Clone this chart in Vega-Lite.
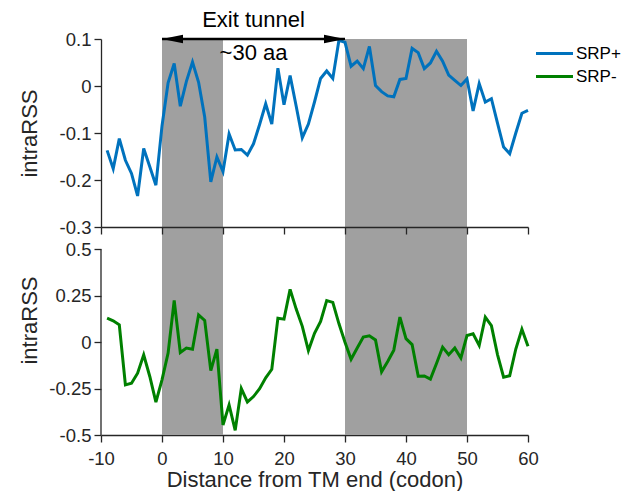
{
  "$schema": "https://vega.github.io/schema/vega-lite/v6.json",
  "padding": {"left": 18, "top": 9, "right": 5, "bottom": 0},
  "bounds": "flush",
  "spacing": 0,
  "config": {
    "font": "Liberation Sans",
    "view": {"stroke": null},
    "axis": {
      "domainColor": "#262626",
      "tickColor": "#262626",
      "labelColor": "#262626",
      "titleColor": "#262626",
      "domainWidth": 1.3,
      "tickWidth": 1.3,
      "tickSize": 7,
      "labelFontSize": 18.5,
      "labelPadding": 3,
      "labelFlush": false,
      "titleFontSize": 22,
      "titleFontWeight": "normal",
      "grid": false
    }
  },
  "datasets": {
    "regions": [
      {"start": 0, "end": 10},
      {"start": 30, "end": 50}
    ],
    "profiles": [
      {"codon": -9, "construct": "SRP+", "intraRSS": -0.137},
      {"codon": -8, "construct": "SRP+", "intraRSS": -0.176},
      {"codon": -7, "construct": "SRP+", "intraRSS": -0.112},
      {"codon": -6, "construct": "SRP+", "intraRSS": -0.158},
      {"codon": -5, "construct": "SRP+", "intraRSS": -0.186},
      {"codon": -4, "construct": "SRP+", "intraRSS": -0.234},
      {"codon": -3, "construct": "SRP+", "intraRSS": -0.133},
      {"codon": -2, "construct": "SRP+", "intraRSS": -0.172},
      {"codon": -1, "construct": "SRP+", "intraRSS": -0.211},
      {"codon": 0, "construct": "SRP+", "intraRSS": -0.085},
      {"codon": 1, "construct": "SRP+", "intraRSS": 0.007},
      {"codon": 2, "construct": "SRP+", "intraRSS": 0.048},
      {"codon": 3, "construct": "SRP+", "intraRSS": -0.043},
      {"codon": 4, "construct": "SRP+", "intraRSS": 0.010},
      {"codon": 5, "construct": "SRP+", "intraRSS": 0.051},
      {"codon": 6, "construct": "SRP+", "intraRSS": 0.008},
      {"codon": 7, "construct": "SRP+", "intraRSS": -0.066},
      {"codon": 8, "construct": "SRP+", "intraRSS": -0.204},
      {"codon": 9, "construct": "SRP+", "intraRSS": -0.151},
      {"codon": 10, "construct": "SRP+", "intraRSS": -0.182},
      {"codon": 11, "construct": "SRP+", "intraRSS": -0.102},
      {"codon": 12, "construct": "SRP+", "intraRSS": -0.136},
      {"codon": 13, "construct": "SRP+", "intraRSS": -0.135},
      {"codon": 14, "construct": "SRP+", "intraRSS": -0.147},
      {"codon": 15, "construct": "SRP+", "intraRSS": -0.123},
      {"codon": 16, "construct": "SRP+", "intraRSS": -0.082},
      {"codon": 17, "construct": "SRP+", "intraRSS": -0.038},
      {"codon": 18, "construct": "SRP+", "intraRSS": -0.081},
      {"codon": 19, "construct": "SRP+", "intraRSS": 0.038},
      {"codon": 20, "construct": "SRP+", "intraRSS": -0.040},
      {"codon": 21, "construct": "SRP+", "intraRSS": 0.022},
      {"codon": 22, "construct": "SRP+", "intraRSS": -0.043},
      {"codon": 23, "construct": "SRP+", "intraRSS": -0.110},
      {"codon": 24, "construct": "SRP+", "intraRSS": -0.081},
      {"codon": 25, "construct": "SRP+", "intraRSS": -0.034},
      {"codon": 26, "construct": "SRP+", "intraRSS": 0.016},
      {"codon": 27, "construct": "SRP+", "intraRSS": 0.032},
      {"codon": 28, "construct": "SRP+", "intraRSS": 0.016},
      {"codon": 29, "construct": "SRP+", "intraRSS": 0.097},
      {"codon": 30, "construct": "SRP+", "intraRSS": 0.093},
      {"codon": 31, "construct": "SRP+", "intraRSS": 0.042},
      {"codon": 32, "construct": "SRP+", "intraRSS": 0.053},
      {"codon": 33, "construct": "SRP+", "intraRSS": 0.037},
      {"codon": 34, "construct": "SRP+", "intraRSS": 0.084},
      {"codon": 35, "construct": "SRP+", "intraRSS": 0.001},
      {"codon": 36, "construct": "SRP+", "intraRSS": -0.012},
      {"codon": 37, "construct": "SRP+", "intraRSS": -0.021},
      {"codon": 38, "construct": "SRP+", "intraRSS": -0.023},
      {"codon": 39, "construct": "SRP+", "intraRSS": 0.014},
      {"codon": 40, "construct": "SRP+", "intraRSS": 0.016},
      {"codon": 41, "construct": "SRP+", "intraRSS": 0.080},
      {"codon": 42, "construct": "SRP+", "intraRSS": 0.071},
      {"codon": 43, "construct": "SRP+", "intraRSS": 0.037},
      {"codon": 44, "construct": "SRP+", "intraRSS": 0.049},
      {"codon": 45, "construct": "SRP+", "intraRSS": 0.074},
      {"codon": 46, "construct": "SRP+", "intraRSS": 0.053},
      {"codon": 47, "construct": "SRP+", "intraRSS": 0.023},
      {"codon": 48, "construct": "SRP+", "intraRSS": 0.012},
      {"codon": 49, "construct": "SRP+", "intraRSS": 0.001},
      {"codon": 50, "construct": "SRP+", "intraRSS": 0.015},
      {"codon": 51, "construct": "SRP+", "intraRSS": -0.053},
      {"codon": 52, "construct": "SRP+", "intraRSS": 0.005},
      {"codon": 53, "construct": "SRP+", "intraRSS": -0.034},
      {"codon": 54, "construct": "SRP+", "intraRSS": -0.027},
      {"codon": 55, "construct": "SRP+", "intraRSS": -0.079},
      {"codon": 56, "construct": "SRP+", "intraRSS": -0.130},
      {"codon": 57, "construct": "SRP+", "intraRSS": -0.144},
      {"codon": 58, "construct": "SRP+", "intraRSS": -0.100},
      {"codon": 59, "construct": "SRP+", "intraRSS": -0.058},
      {"codon": 60, "construct": "SRP+", "intraRSS": -0.052},
      {"codon": -9, "construct": "SRP-", "intraRSS": 0.129},
      {"codon": -8, "construct": "SRP-", "intraRSS": 0.115},
      {"codon": -7, "construct": "SRP-", "intraRSS": 0.093},
      {"codon": -6, "construct": "SRP-", "intraRSS": -0.230},
      {"codon": -5, "construct": "SRP-", "intraRSS": -0.221},
      {"codon": -4, "construct": "SRP-", "intraRSS": -0.167},
      {"codon": -3, "construct": "SRP-", "intraRSS": -0.068},
      {"codon": -2, "construct": "SRP-", "intraRSS": -0.185},
      {"codon": -1, "construct": "SRP-", "intraRSS": -0.323},
      {"codon": 0, "construct": "SRP-", "intraRSS": -0.203},
      {"codon": 1, "construct": "SRP-", "intraRSS": -0.059},
      {"codon": 2, "construct": "SRP-", "intraRSS": 0.224},
      {"codon": 3, "construct": "SRP-", "intraRSS": -0.056},
      {"codon": 4, "construct": "SRP-", "intraRSS": -0.032},
      {"codon": 5, "construct": "SRP-", "intraRSS": -0.038},
      {"codon": 6, "construct": "SRP-", "intraRSS": 0.147},
      {"codon": 7, "construct": "SRP-", "intraRSS": 0.117},
      {"codon": 8, "construct": "SRP-", "intraRSS": -0.153},
      {"codon": 9, "construct": "SRP-", "intraRSS": -0.038},
      {"codon": 10, "construct": "SRP-", "intraRSS": -0.446},
      {"codon": 11, "construct": "SRP-", "intraRSS": -0.338},
      {"codon": 12, "construct": "SRP-", "intraRSS": -0.475},
      {"codon": 13, "construct": "SRP-", "intraRSS": -0.250},
      {"codon": 14, "construct": "SRP-", "intraRSS": -0.322},
      {"codon": 15, "construct": "SRP-", "intraRSS": -0.293},
      {"codon": 16, "construct": "SRP-", "intraRSS": -0.251},
      {"codon": 17, "construct": "SRP-", "intraRSS": -0.192},
      {"codon": 18, "construct": "SRP-", "intraRSS": -0.146},
      {"codon": 19, "construct": "SRP-", "intraRSS": 0.129},
      {"codon": 20, "construct": "SRP-", "intraRSS": 0.124},
      {"codon": 21, "construct": "SRP-", "intraRSS": 0.284},
      {"codon": 22, "construct": "SRP-", "intraRSS": 0.178},
      {"codon": 23, "construct": "SRP-", "intraRSS": 0.085},
      {"codon": 24, "construct": "SRP-", "intraRSS": -0.045},
      {"codon": 25, "construct": "SRP-", "intraRSS": 0.048},
      {"codon": 26, "construct": "SRP-", "intraRSS": 0.111},
      {"codon": 27, "construct": "SRP-", "intraRSS": 0.224},
      {"codon": 28, "construct": "SRP-", "intraRSS": 0.214},
      {"codon": 29, "construct": "SRP-", "intraRSS": 0.100},
      {"codon": 30, "construct": "SRP-", "intraRSS": 0.000},
      {"codon": 31, "construct": "SRP-", "intraRSS": -0.092},
      {"codon": 32, "construct": "SRP-", "intraRSS": -0.032},
      {"codon": 33, "construct": "SRP-", "intraRSS": 0.027},
      {"codon": 34, "construct": "SRP-", "intraRSS": 0.034},
      {"codon": 35, "construct": "SRP-", "intraRSS": 0.012},
      {"codon": 36, "construct": "SRP-", "intraRSS": -0.160},
      {"codon": 37, "construct": "SRP-", "intraRSS": -0.104},
      {"codon": 38, "construct": "SRP-", "intraRSS": -0.043},
      {"codon": 39, "construct": "SRP-", "intraRSS": 0.135},
      {"codon": 40, "construct": "SRP-", "intraRSS": 0.019},
      {"codon": 41, "construct": "SRP-", "intraRSS": -0.013},
      {"codon": 42, "construct": "SRP-", "intraRSS": -0.183},
      {"codon": 43, "construct": "SRP-", "intraRSS": -0.182},
      {"codon": 44, "construct": "SRP-", "intraRSS": -0.199},
      {"codon": 45, "construct": "SRP-", "intraRSS": -0.115},
      {"codon": 46, "construct": "SRP-", "intraRSS": -0.027},
      {"codon": 47, "construct": "SRP-", "intraRSS": -0.068},
      {"codon": 48, "construct": "SRP-", "intraRSS": -0.032},
      {"codon": 49, "construct": "SRP-", "intraRSS": -0.085},
      {"codon": 50, "construct": "SRP-", "intraRSS": 0.036},
      {"codon": 51, "construct": "SRP-", "intraRSS": 0.045},
      {"codon": 52, "construct": "SRP-", "intraRSS": -0.018},
      {"codon": 53, "construct": "SRP-", "intraRSS": 0.135},
      {"codon": 54, "construct": "SRP-", "intraRSS": 0.089},
      {"codon": 55, "construct": "SRP-", "intraRSS": -0.067},
      {"codon": 56, "construct": "SRP-", "intraRSS": -0.189},
      {"codon": 57, "construct": "SRP-", "intraRSS": -0.181},
      {"codon": 58, "construct": "SRP-", "intraRSS": -0.037},
      {"codon": 59, "construct": "SRP-", "intraRSS": 0.070},
      {"codon": 60, "construct": "SRP-", "intraRSS": -0.022}
    ]
  },
  "vconcat": [
    {
      "width": 427,
      "height": 188,
      "layer": [
        {
          "data": {"name": "regions"},
          "mark": {"type": "rect", "color": "#a0a0a0"},
          "encoding": {
            "x": {"field": "start", "type": "quantitative", "scale": {"domain": [-10, 60], "nice": false}, "axis": null},
            "x2": {"field": "end"}
          }
        },
        {
          "data": {"name": "profiles"},
          "transform": [{"filter": "datum.construct === 'SRP+'"}],
          "mark": {"type": "line", "strokeWidth": 3},
          "encoding": {
            "x": {"field": "codon", "type": "quantitative", "scale": {"domain": [-10, 60], "nice": false}, "axis": null},
            "y": {
              "field": "intraRSS", "type": "quantitative",
              "scale": {"domain": [-0.3, 0.1], "nice": false, "zero": false},
              "axis": {"values": [-0.3, -0.2, -0.1, 0, 0.1], "labelExpr": "'' + datum.value", "title": "intraRSS", "titleX": -72, "titleBaseline": "middle"}
            },
            "color": {
              "field": "construct", "type": "nominal",
              "scale": {"domain": ["SRP+", "SRP-"], "range": ["#0072BD", "#008000"]},
              "legend": {
                "title": null, "orient": "none", "legendX": 442, "legendY": 3,
                "symbolType": "M -1.85 0 L 1.85 0", "symbolSize": 400, "symbolStrokeWidth": 3,
                "labelFontSize": 17, "labelOffset": 10, "rowPadding": 3, "labelColor": "#000000", "padding": 0
              }
            }
          }
        },
        {
          "data": {"values": [{}]},
          "mark": {"type": "rule", "strokeWidth": 2.5, "color": "#000000"},
          "encoding": {
            "x": {"datum": 0, "type": "quantitative"},
            "x2": {"datum": 30},
            "y": {"datum": 0.1, "type": "quantitative"}
          }
        },
        {
          "data": {"values": [{}]},
          "mark": {"type": "point", "shape": "M 0 0 L 2 -0.4 L 2 0.4 Z", "size": 441, "filled": true, "color": "#000000", "opacity": 1},
          "encoding": {
            "x": {"datum": 0, "type": "quantitative"},
            "y": {"datum": 0.1, "type": "quantitative"}
          }
        },
        {
          "data": {"values": [{}]},
          "mark": {"type": "point", "shape": "M 0 0 L -2 -0.4 L -2 0.4 Z", "size": 441, "filled": true, "color": "#000000", "opacity": 1},
          "encoding": {
            "x": {"datum": 30, "type": "quantitative"},
            "y": {"datum": 0.1, "type": "quantitative"}
          }
        },
        {
          "data": {"values": [{}]},
          "mark": {"type": "text", "fontSize": 22, "align": "center", "baseline": "middle", "color": "#000000"},
          "encoding": {
            "x": {"datum": 15, "type": "quantitative"},
            "y": {"datum": 0.14, "type": "quantitative"},
            "text": {"value": "Exit tunnel"}
          }
        },
        {
          "data": {"values": [{}]},
          "mark": {"type": "text", "fontSize": 22, "align": "center", "baseline": "middle", "color": "#000000"},
          "encoding": {
            "x": {"datum": 15, "type": "quantitative"},
            "y": {"datum": 0.07, "type": "quantitative"},
            "text": {"value": "~30 aa"}
          }
        }
      ]
    },
    {
      "width": 427,
      "height": 208,
      "layer": [
        {
          "data": {"name": "regions"},
          "mark": {"type": "rect", "color": "#a0a0a0"},
          "encoding": {
            "x": {
              "field": "start", "type": "quantitative", "scale": {"domain": [-10, 60], "nice": false},
              "axis": {"orient": "top", "values": [-10, 0, 10, 20, 30, 40, 50, 60], "labels": false, "tickSize": -7, "title": null, "zindex": 1}
            },
            "x2": {"field": "end"}
          }
        },
        {
          "data": {"name": "profiles"},
          "transform": [{"filter": "datum.construct === 'SRP-'"}],
          "mark": {"type": "line", "strokeWidth": 3},
          "encoding": {
            "x": {
              "field": "codon", "type": "quantitative", "scale": {"domain": [-10, 60], "nice": false},
              "axis": {"values": [-10, 0, 10, 20, 30, 40, 50, 60], "labelExpr": "'' + datum.value", "labelPadding": 7, "title": "Distance from TM end (codon)", "titlePadding": 2}
            },
            "y": {
              "field": "intraRSS", "type": "quantitative",
              "scale": {"domain": [-0.5, 0.62], "nice": false, "zero": false},
              "axis": {"values": [-0.5, -0.25, 0, 0.25, 0.5], "labelExpr": "'' + datum.value", "domain": false, "title": "intraRSS", "titleX": -72, "titleY": 93, "titleBaseline": "middle"}
            },
            "color": {"field": "construct", "type": "nominal"}
          }
        },
        {
          "data": {"values": [{}]},
          "mark": {"type": "rule", "strokeWidth": 1.3, "color": "#262626"},
          "encoding": {
            "x": {"datum": -10, "type": "quantitative", "axis": null},
            "y": {"datum": -0.5, "type": "quantitative"},
            "y2": {"datum": 0.5}
          }
        }
      ],
      "resolve": {"axis": {"x": "independent"}}
    }
  ]
}
